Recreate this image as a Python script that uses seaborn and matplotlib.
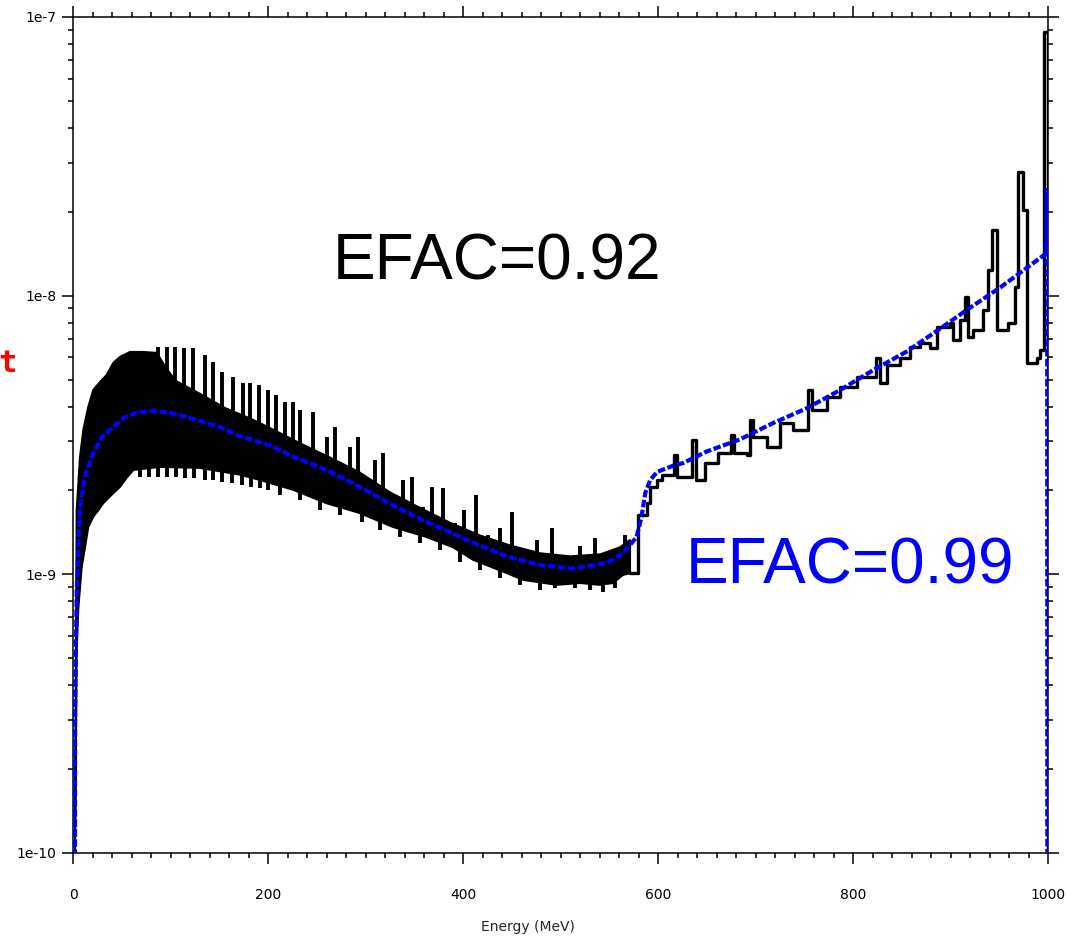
import numpy as np
import matplotlib
matplotlib.use("Agg")
import matplotlib.pyplot as plt
from matplotlib.ticker import MultipleLocator, LogLocator, NullFormatter
import seaborn as sns

# ---------------- data ----------------
# dense oscillating part of the black histogram (EFAC=0.92): band edges
hi_E = [2.0, 3.8, 7.2, 10.6, 15.7, 20.8, 27.7, 34.5, 41.4, 48.2, 58.5, 72.0, 86.0, 94.0,
        105.0, 130.0, 156.0, 182.0, 202.0, 233.0, 264.0, 294.0, 325.0, 356.0, 387.0,
        417.0, 448.0, 479.0, 510.0, 541.0, 561.0, 571.3]
hi_v = [1.0e-10, 1.70e-9, 2.64e-9, 3.30e-9, 3.99e-9, 4.59e-9, 4.90e-9, 5.19e-9, 5.74e-9,
        6.03e-9, 6.28e-9, 6.28e-9, 6.23e-9, 5.60e-9, 4.95e-9, 4.45e-9, 3.95e-9, 3.62e-9,
        3.35e-9, 2.95e-9, 2.62e-9, 2.32e-9, 1.97e-9, 1.73e-9, 1.53e-9, 1.38e-9, 1.27e-9,
        1.19e-9, 1.16e-9, 1.18e-9, 1.25e-9, 1.33e-9]
lo_E = [2.0, 3.8, 5.5, 8.9, 12.3, 15.7, 20.8, 26.0, 31.0, 39.6, 48.2, 55.0, 62.0, 89.0,
        130.0, 171.0, 192.0, 226.0, 260.0, 294.0, 328.0, 363.0, 390.0, 410.0, 445.0,
        462.0, 496.0, 520.0, 540.0, 554.0, 564.0, 571.3]
lo_v = [1.0e-10, 5.5e-10, 7.6e-10, 1.06e-9, 1.25e-9, 1.48e-9, 1.61e-9, 1.70e-9, 1.80e-9,
        1.93e-9, 2.06e-9, 2.22e-9, 2.37e-9, 2.43e-9, 2.41e-9, 2.28e-9, 2.18e-9, 2.01e-9,
        1.80e-9, 1.66e-9, 1.48e-9, 1.36e-9, 1.25e-9, 1.13e-9, 1.01e-9, 9.55e-10, 9.17e-10,
        9.31e-10, 9.17e-10, 9.31e-10, 9.95e-10, 1.01e-9]

# upward spikes of the black histogram
spike_E = [87.2, 96.4, 104.6, 113.8, 123.1, 135.4, 143.6, 152.8, 164.1, 174.4, 181.5, 190.8,
           200.0, 208.2, 217.4, 225.6, 232.8, 246.2, 260.5, 268.7, 284.1, 292.3, 309.7,
           317.9, 338.5, 347.7, 359.0, 368.2, 379.5, 391.8, 401.0, 413.3, 425.6, 437.9,
           450.3, 465.6, 475.9, 491.3, 506.7, 520.0, 535.4, 547.7, 566.2]
spike_v = [6.55e-9, 6.55e-9, 6.55e-9, 6.49e-9, 6.49e-9, 6.12e-9, 5.78e-9, 5.32e-9, 5.11e-9,
           4.86e-9, 4.86e-9, 4.79e-9, 4.59e-9, 4.41e-9, 4.16e-9, 4.16e-9, 3.89e-9, 3.83e-9,
           3.11e-9, 3.38e-9, 2.86e-9, 3.11e-9, 2.57e-9, 2.73e-9, 2.18e-9, 2.24e-9, 1.74e-9,
           2.06e-9, 2.04e-9, 1.53e-9, 1.70e-9, 1.93e-9, 1.38e-9, 1.47e-9, 1.67e-9, 1.20e-9,
           1.33e-9, 1.47e-9, 1.17e-9, 1.26e-9, 1.35e-9, 1.17e-9, 1.38e-9]

# downward dips of the black histogram
dip_E = [68.7, 77.9, 87.2, 96.4, 105.6, 114.9, 124.1, 135.4, 143.6, 152.8, 163.1, 173.3,
         182.6, 191.8, 200.0, 212.3, 232.8, 253.3, 273.8, 296.4, 314.9, 335.4, 355.9,
         376.4, 396.9, 417.4, 437.9, 458.5, 479.0, 494.4, 514.9, 530.3, 543.6, 555.9]
dip_v = [2.24e-9, 2.24e-9, 2.24e-9, 2.24e-9, 2.24e-9, 2.22e-9, 2.22e-9, 2.18e-9, 2.18e-9,
         2.15e-9, 2.13e-9, 2.09e-9, 2.06e-9, 2.04e-9, 2.01e-9, 1.93e-9, 1.85e-9, 1.70e-9,
         1.63e-9, 1.54e-9, 1.44e-9, 1.36e-9, 1.30e-9, 1.22e-9, 1.11e-9, 1.04e-9, 9.71e-10,
         9.17e-10, 8.79e-10, 8.95e-10, 8.95e-10, 8.79e-10, 8.65e-10, 8.95e-10]

# step part of the black histogram (bin starts, values)
tail_E = [571.3, 579.5, 588.7, 591.8, 599.0, 604.1, 616.4, 619.5, 634.9, 639.0, 648.2, 661.5,
          674.9, 678.0, 691.3, 694.4, 697.4, 711.8, 725.1, 738.5, 753.8, 757.9, 773.3, 786.7,
          804.1, 823.6, 827.7, 834.9, 848.2, 858.5, 868.7, 879.0, 886.2, 899.5, 902.6, 909.7,
          914.9, 917.9, 923.1, 933.3, 938.5, 942.6, 947.7, 959.0, 966.2, 969.2, 974.4, 978.5,
          988.7, 991.8, 995.9, 1000.0]
tail_v = [1.01e-9, 1.63e-9, 1.80e-9, 2.06e-9, 2.18e-9, 2.28e-9, 2.68e-9, 2.24e-9, 3.03e-9,
          2.18e-9, 2.51e-9, 2.73e-9, 3.16e-9, 2.73e-9, 2.68e-9, 3.58e-9, 3.11e-9, 2.86e-9,
          3.49e-9, 3.30e-9, 4.59e-9, 3.89e-9, 4.33e-9, 4.70e-9, 5.11e-9, 5.97e-9, 4.86e-9,
          5.63e-9, 5.97e-9, 6.55e-9, 6.76e-9, 6.49e-9, 7.72e-9, 7.98e-9, 6.93e-9, 8.18e-9,
          9.89e-9, 7.11e-9, 7.53e-9, 8.89e-9, 1.24e-8, 1.72e-8, 7.53e-9, 7.98e-9, 1.07e-8,
          2.78e-8, 2.03e-8, 5.74e-9, 5.97e-9, 6.38e-9, 8.83e-8, 5.0e-11]

# smooth blue curve (EFAC=0.99)
blue_E = [2.0, 2.2, 3.8, 7.2, 12.3, 19.1, 29.4, 41.4, 51.6, 65.3, 82.4, 99.5, 116.6, 133.7,
          150.8, 167.9, 185.0, 202.0, 226.0, 260.0, 294.0, 328.0, 363.0, 390.0, 410.0, 445.0,
          479.0, 513.0, 548.0, 564.0, 578.0, 583.0, 587.0, 592.0, 599.0, 615.0, 626.0, 650.0,
          684.0, 718.0, 753.0, 787.0, 821.0, 855.0, 889.0, 917.0, 951.0, 985.0, 998.5, 998.6,
          999.2, 999.3]
blue_v = [5.0e-11, 3.3e-10, 8.8e-10, 1.74e-9, 2.24e-9, 2.64e-9, 3.11e-9, 3.38e-9, 3.64e-9,
          3.80e-9, 3.86e-9, 3.80e-9, 3.67e-9, 3.52e-9, 3.38e-9, 3.16e-9, 3.03e-9, 2.90e-9,
          2.64e-9, 2.37e-9, 2.06e-9, 1.77e-9, 1.54e-9, 1.40e-9, 1.30e-9, 1.16e-9, 1.08e-9,
          1.05e-9, 1.10e-9, 1.19e-9, 1.36e-9, 1.60e-9, 1.96e-9, 2.18e-9, 2.33e-9, 2.45e-9,
          2.51e-9, 2.76e-9, 3.05e-9, 3.49e-9, 3.95e-9, 4.59e-9, 5.41e-9, 6.30e-9, 7.60e-9,
          8.90e-9, 1.07e-8, 1.31e-8, 1.42e-8, 2.39e-8, 2.39e-8, 5.0e-11]

x_ticks = [0, 200, 400, 600, 800, 1000]
x_tick_labels = ["0", "200", "400", "600", "800", "1000"]
y_ticks = [1e-10, 1e-9, 1e-8, 1e-7]
y_tick_labels = ["1e-10", "1e-9", "1e-8", "1e-7"]
label_black = "EFAC=0.92"
label_blue = "EFAC=0.99"
x_title = "Energy (MeV)"

# ---------------- plot ----------------
sns.set_style("ticks")
plt.rcParams["font.family"] = ["DejaVu Sans"]

W, H = 1066, 936
fig = plt.figure(figsize=(W / 100, H / 100), dpi=100)
ax = fig.add_axes([73 / W, 1 - 853 / H, 975 / W, 836 / H])
ax.set_yscale("log")

# dense band
band_x = np.r_[hi_E, lo_E[::-1]]
band_y = np.r_[hi_v, lo_v[::-1]]
ax.fill(band_x, band_y, color="black", lw=1.5, zorder=2)

# spikes and dips attached to the band
sp_base = np.interp(spike_E, lo_E, lo_v)
ax.vlines(spike_E, sp_base, spike_v, color="black", lw=2.8, zorder=2)
dp_base = np.interp(dip_E, hi_E, hi_v)
ax.vlines(dip_E, dip_v, dp_base, color="black", lw=2.8, zorder=2)

# step tail
sns.lineplot(x=tail_E, y=tail_v, ax=ax, color="black", lw=2.4, drawstyle="steps-post",
             estimator=None, sort=False, zorder=3)

# blue dashed curve
sns.lineplot(x=blue_E, y=blue_v, ax=ax, color="#0000ff", lw=3.0, estimator=None,
             sort=False, zorder=4, dashes=False)
ax.lines[-1].set_dashes((1.8, 0.6))

ax.set_xlim(0, 1000)
ax.set_ylim(1e-10, 1e-7)

ax.set_xticks(x_ticks)
ax.set_xticklabels(x_tick_labels)
ax.xaxis.set_minor_locator(MultipleLocator(20))
ax.set_yticks(y_ticks)
ax.set_yticklabels(y_tick_labels)
ax.yaxis.set_minor_locator(LogLocator(base=10, subs=np.arange(2, 10)))
ax.yaxis.set_minor_formatter(NullFormatter())

ax.tick_params(which="both", direction="out", top=True, right=True,
               labeltop=False, labelright=False, colors="black", width=1.1)
ax.tick_params(which="major", length=8, labelsize=10)
ax.tick_params(which="minor", length=3.5)
ax.tick_params(axis="x", which="major", pad=17)
ax.tick_params(axis="y", which="major", pad=4)
for s in ax.spines.values():
    s.set_color("black")
    s.set_linewidth(1.1)
    s.set_visible(True)

ax.set_xlabel(x_title, fontsize=10)
ax.xaxis.set_label_coords((528 - 73) / 975, -(920 - 853) / 836)
ax.set_ylabel("")

ax.text((497 - 73) / 975, (853 - 280) / 836, label_black, transform=ax.transAxes,
        ha="center", va="baseline", fontsize=46, color="black",
        family=["Liberation Sans", "DejaVu Sans"], zorder=5)
ax.text((850 - 73) / 975, (853 - 583) / 836, label_blue, transform=ax.transAxes,
        ha="center", va="baseline", fontsize=46, color="#0000ff",
        family=["Liberation Sans", "DejaVu Sans"], zorder=5)

fig.text(17 / W, 1 - 364 / H, "t", ha="right", va="center", color="red",
         fontsize=22, fontweight="bold", family=["DejaVu Sans Mono"])

fig.savefig("out.png", dpi=100)
